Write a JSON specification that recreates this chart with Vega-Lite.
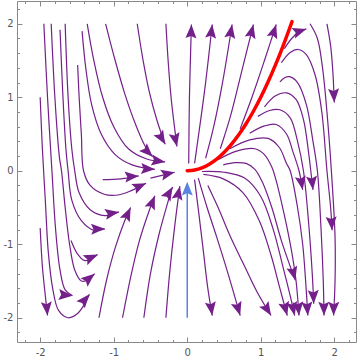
{
"$schema":"https://vega.github.io/schema/vega-lite/v6.json",
"width":339,"height":341,
"autosize":{"type":"none"},
"padding":{"left":17,"top":1,"right":4,"bottom":18},
"background":"white",
"config":{"view":{"stroke":null},"axis":{"grid":false,"domainColor":"#8a8a8a","tickColor":"#8a8a8a","labelColor":"#555555","labelFont":"DejaVu Sans","labelFontSize":10,"domainWidth":1,"tickWidth":1,"title":null}},
"datasets":{
"streams":[
{"s":"U1","i":0,"x":0.02,"y":0.1},{"s":"U1","i":1,"x":0.03,"y":1.0},{"s":"U1","i":2,"x":0.057,"y":1.99},
{"s":"U2","i":0,"x":0.1,"y":0.1},{"s":"U2","i":1,"x":0.17,"y":0.6},{"s":"U2","i":2,"x":0.25,"y":1.2},{"s":"U2","i":3,"x":0.34,"y":1.99},
{"s":"U3","i":0,"x":0.25,"y":0.17},{"s":"U3","i":1,"x":0.36,"y":0.6},{"s":"U3","i":2,"x":0.48,"y":1.2},{"s":"U3","i":3,"x":0.61,"y":1.99},
{"s":"U4","i":0,"x":0.45,"y":0.3},{"s":"U4","i":1,"x":0.59,"y":0.75},{"s":"U4","i":2,"x":0.74,"y":1.35},{"s":"U4","i":3,"x":0.9,"y":1.99},
{"s":"U5","i":0,"x":0.72,"y":0.57},{"s":"U5","i":1,"x":0.88,"y":1.0},{"s":"U5","i":2,"x":1.05,"y":1.5},{"s":"U5","i":3,"x":1.21,"y":1.99},
{"s":"P0","i":0,"x":1.32,"y":1.66},{"s":"P0","i":1,"x":1.42,"y":1.8},{"s":"P0","i":2,"x":1.52,"y":1.89},{"s":"P0","i":3,"x":1.62,"y":1.93},
{"s":"P1","i":0,"x":1.28,"y":1.47},{"s":"P1","i":1,"x":1.4,"y":1.61},{"s":"P1","i":2,"x":1.51,"y":1.65},{"s":"P1","i":3,"x":1.62,"y":1.58},{"s":"P1","i":4,"x":1.74,"y":1.3},{"s":"P1","i":5,"x":1.83,"y":0.8},{"s":"P1","i":6,"x":1.9,"y":0.0},{"s":"P1","i":7,"x":1.95,"y":-0.5},{"s":"P1","i":8,"x":1.97,"y":-0.81},
{"s":"P2","i":0,"x":1.26,"y":1.21},{"s":"P2","i":1,"x":1.33,"y":1.27},{"s":"P2","i":2,"x":1.39,"y":1.28},{"s":"P2","i":3,"x":1.5,"y":1.2},{"s":"P2","i":4,"x":1.62,"y":0.9},{"s":"P2","i":5,"x":1.71,"y":0.4},{"s":"P2","i":6,"x":1.77,"y":0.0},{"s":"P2","i":7,"x":1.82,"y":-0.8},{"s":"P2","i":8,"x":1.85,"y":-1.5},{"s":"P2","i":9,"x":1.86,"y":-1.97},
{"s":"P3","i":0,"x":1.05,"y":0.87},{"s":"P3","i":1,"x":1.2,"y":1.02},{"s":"P3","i":2,"x":1.35,"y":1.06},{"s":"P3","i":3,"x":1.48,"y":0.97},{"s":"P3","i":4,"x":1.58,"y":0.7},{"s":"P3","i":5,"x":1.65,"y":0.25},{"s":"P3","i":6,"x":1.68,"y":0.0},{"s":"P3","i":7,"x":1.71,"y":-0.26},
{"s":"P4","i":0,"x":0.96,"y":0.74},{"s":"P4","i":1,"x":1.12,"y":0.82},{"s":"P4","i":2,"x":1.26,"y":0.83},{"s":"P4","i":3,"x":1.4,"y":0.72},{"s":"P4","i":4,"x":1.5,"y":0.4},{"s":"P4","i":5,"x":1.58,"y":0.0},{"s":"P4","i":6,"x":1.65,"y":-0.7},{"s":"P4","i":7,"x":1.7,"y":-1.4},{"s":"P4","i":8,"x":1.72,"y":-1.81},
{"s":"P5","i":0,"x":0.85,"y":0.51},{"s":"P5","i":1,"x":1.05,"y":0.61},{"s":"P5","i":2,"x":1.21,"y":0.63},{"s":"P5","i":3,"x":1.35,"y":0.5},{"s":"P5","i":4,"x":1.44,"y":0.25},{"s":"P5","i":5,"x":1.52,"y":0.0},{"s":"P5","i":6,"x":1.57,"y":-0.26},
{"s":"P6","i":0,"x":0.58,"y":0.3},{"s":"P6","i":1,"x":0.85,"y":0.42},{"s":"P6","i":2,"x":1.1,"y":0.44},{"s":"P6","i":3,"x":1.25,"y":0.32},{"s":"P6","i":4,"x":1.35,"y":0.1},{"s":"P6","i":5,"x":1.4,"y":0.0},{"s":"P6","i":6,"x":1.5,"y":-0.5},{"s":"P6","i":7,"x":1.57,"y":-1.0},{"s":"P6","i":8,"x":1.61,"y":-1.5},{"s":"P6","i":9,"x":1.64,"y":-1.97},
{"s":"P7","i":0,"x":0.42,"y":0.15},{"s":"P7","i":1,"x":0.65,"y":0.26},{"s":"P7","i":2,"x":0.92,"y":0.3},{"s":"P7","i":3,"x":1.05,"y":0.22},{"s":"P7","i":4,"x":1.15,"y":0.05},{"s":"P7","i":5,"x":1.2,"y":-0.1},{"s":"P7","i":6,"x":1.32,"y":-0.6},{"s":"P7","i":7,"x":1.42,"y":-1.1},{"s":"P7","i":8,"x":1.48,"y":-1.5},{"s":"P7","i":9,"x":1.52,"y":-1.97},
{"s":"P8","i":0,"x":0.49,"y":0.08},{"s":"P8","i":1,"x":0.65,"y":0.11},{"s":"P8","i":2,"x":0.8,"y":0.1},{"s":"P8","i":3,"x":0.92,"y":0.02},{"s":"P8","i":4,"x":1.02,"y":-0.15},{"s":"P8","i":5,"x":1.15,"y":-0.5},{"s":"P8","i":6,"x":1.28,"y":-0.95},{"s":"P8","i":7,"x":1.4,"y":-1.3},{"s":"P8","i":8,"x":1.47,"y":-1.49},
{"s":"R1","i":0,"x":0.1,"y":-0.12},{"s":"R1","i":1,"x":0.16,"y":-0.6},{"s":"R1","i":2,"x":0.22,"y":-1.1},{"s":"R1","i":3,"x":0.28,"y":-1.6},{"s":"R1","i":4,"x":0.34,"y":-1.97},
{"s":"R2","i":0,"x":0.15,"y":-0.1},{"s":"R2","i":1,"x":0.27,"y":-0.5},{"s":"R2","i":2,"x":0.4,"y":-0.9},{"s":"R2","i":3,"x":0.57,"y":-1.45},{"s":"R2","i":4,"x":0.72,"y":-1.97},
{"s":"R3","i":0,"x":0.28,"y":-0.2},{"s":"R3","i":1,"x":0.42,"y":-0.5},{"s":"R3","i":2,"x":0.58,"y":-0.88},{"s":"R3","i":3,"x":0.78,"y":-1.3},{"s":"R3","i":4,"x":0.95,"y":-1.65},{"s":"R3","i":5,"x":1.14,"y":-1.97},
{"s":"R4","i":0,"x":0.22,"y":-0.05},{"s":"R4","i":1,"x":0.49,"y":-0.11},{"s":"R4","i":2,"x":0.76,"y":-0.3},{"s":"R4","i":3,"x":0.98,"y":-0.68},{"s":"R4","i":4,"x":1.14,"y":-1.15},{"s":"R4","i":5,"x":1.26,"y":-1.6},{"s":"R4","i":6,"x":1.36,"y":-1.97},
{"s":"R5","i":0,"x":0.2,"y":-0.01},{"s":"R5","i":1,"x":0.5,"y":-0.02},{"s":"R5","i":2,"x":0.78,"y":-0.1},{"s":"R5","i":3,"x":1.0,"y":-0.35},{"s":"R5","i":4,"x":1.17,"y":-0.8},{"s":"R5","i":5,"x":1.3,"y":-1.3},{"s":"R5","i":6,"x":1.4,"y":-1.7},{"s":"R5","i":7,"x":1.46,"y":-1.97},
{"s":"F1","i":0,"x":1.67,"y":2.0},{"s":"F1","i":1,"x":1.77,"y":1.8},{"s":"F1","i":2,"x":1.84,"y":1.4},{"s":"F1","i":3,"x":1.9,"y":0.8},{"s":"F1","i":4,"x":1.96,"y":0.0},{"s":"F1","i":5,"x":2.01,"y":-0.9},{"s":"F1","i":6,"x":2.01,"y":-1.5},{"s":"F1","i":7,"x":1.99,"y":-1.97},
{"s":"F2","i":0,"x":1.9,"y":2.0},{"s":"F2","i":1,"x":1.95,"y":1.7},{"s":"F2","i":2,"x":1.98,"y":1.35},{"s":"F2","i":3,"x":2.0,"y":0.93},
{"s":"T1","i":0,"x":-0.29,"y":2.0},{"s":"T1","i":1,"x":-0.26,"y":1.5},{"s":"T1","i":2,"x":-0.22,"y":1.0},{"s":"T1","i":3,"x":-0.18,"y":0.65},{"s":"T1","i":4,"x":-0.14,"y":0.33},
{"s":"T2","i":0,"x":-0.68,"y":2.0},{"s":"T2","i":1,"x":-0.6,"y":1.5},{"s":"T2","i":2,"x":-0.51,"y":1.05},{"s":"T2","i":3,"x":-0.41,"y":0.68},{"s":"T2","i":4,"x":-0.3,"y":0.36},
{"s":"T3","i":0,"x":-1.11,"y":2.0},{"s":"T3","i":1,"x":-0.98,"y":1.5},{"s":"T3","i":2,"x":-0.85,"y":1.05},{"s":"T3","i":3,"x":-0.71,"y":0.65},{"s":"T3","i":4,"x":-0.57,"y":0.33},{"s":"T3","i":5,"x":-0.47,"y":0.19},
{"s":"T4","i":0,"x":-1.36,"y":2.0},{"s":"T4","i":1,"x":-1.27,"y":1.5},{"s":"T4","i":2,"x":-1.15,"y":1.0},{"s":"T4","i":3,"x":-1.0,"y":0.6},{"s":"T4","i":4,"x":-0.8,"y":0.3},{"s":"T4","i":5,"x":-0.55,"y":0.16},{"s":"T4","i":6,"x":-0.3,"y":0.12},
{"s":"T5","i":0,"x":-1.43,"y":1.9},{"s":"T5","i":1,"x":-1.38,"y":1.4},{"s":"T5","i":2,"x":-1.3,"y":0.9},{"s":"T5","i":3,"x":-1.17,"y":0.5},{"s":"T5","i":4,"x":-0.98,"y":0.22},{"s":"T5","i":5,"x":-0.75,"y":0.08},{"s":"T5","i":6,"x":-0.44,"y":0.02},
{"s":"UA","i":0,"x":-1.49,"y":1.44},{"s":"UA","i":1,"x":-1.47,"y":1.0},{"s":"UA","i":2,"x":-1.44,"y":0.5},{"s":"UA","i":3,"x":-1.41,"y":0.0},{"s":"UA","i":4,"x":-1.32,"y":-0.2},{"s":"UA","i":5,"x":-1.13,"y":-0.32},{"s":"UA","i":6,"x":-0.94,"y":-0.33},{"s":"UA","i":7,"x":-0.76,"y":-0.27},{"s":"UA","i":8,"x":-0.56,"y":-0.17},
{"s":"M1","i":0,"x":-1.15,"y":-0.12},{"s":"M1","i":1,"x":-0.9,"y":-0.11},{"s":"M1","i":2,"x":-0.66,"y":-0.07},
{"s":"M2","i":0,"x":-0.5,"y":-0.1},{"s":"M2","i":1,"x":-0.33,"y":-0.06},{"s":"M2","i":2,"x":-0.17,"y":-0.02},
{"s":"UB","i":0,"x":-1.66,"y":2.0},{"s":"UB","i":1,"x":-1.62,"y":1.0},{"s":"UB","i":2,"x":-1.57,"y":0.3},{"s":"UB","i":3,"x":-1.53,"y":0.0},{"s":"UB","i":4,"x":-1.47,"y":-0.3},{"s":"UB","i":5,"x":-1.32,"y":-0.53},{"s":"UB","i":6,"x":-1.12,"y":-0.61},{"s":"UB","i":7,"x":-0.93,"y":-0.56},
{"s":"UC","i":0,"x":-1.73,"y":1.92},{"s":"UC","i":1,"x":-1.69,"y":1.0},{"s":"UC","i":2,"x":-1.65,"y":0.3},{"s":"UC","i":3,"x":-1.62,"y":0.0},{"s":"UC","i":4,"x":-1.57,"y":-0.4},{"s":"UC","i":5,"x":-1.44,"y":-0.68},{"s":"UC","i":6,"x":-1.27,"y":-0.81},{"s":"UC","i":7,"x":-1.12,"y":-0.79},
{"s":"UG","i":0,"x":-1.58,"y":-0.95},{"s":"UG","i":1,"x":-1.5,"y":-1.12},{"s":"UG","i":2,"x":-1.4,"y":-1.22},{"s":"UG","i":3,"x":-1.3,"y":-1.2},{"s":"UG","i":4,"x":-1.22,"y":-1.14},
{"s":"UD","i":0,"x":-1.85,"y":2.0},{"s":"UD","i":1,"x":-1.8,"y":1.0},{"s":"UD","i":2,"x":-1.74,"y":0.2},{"s":"UD","i":3,"x":-1.71,"y":0.0},{"s":"UD","i":4,"x":-1.66,"y":-0.5},{"s":"UD","i":5,"x":-1.6,"y":-1.0},{"s":"UD","i":6,"x":-1.53,"y":-1.35},{"s":"UD","i":7,"x":-1.44,"y":-1.5},{"s":"UD","i":8,"x":-1.34,"y":-1.48},{"s":"UD","i":9,"x":-1.26,"y":-1.4},
{"s":"UE","i":0,"x":-1.95,"y":2.0},{"s":"UE","i":1,"x":-1.9,"y":1.0},{"s":"UE","i":2,"x":-1.84,"y":0.0},{"s":"UE","i":3,"x":-1.79,"y":-0.8},{"s":"UE","i":4,"x":-1.73,"y":-1.35},{"s":"UE","i":5,"x":-1.66,"y":-1.62},{"s":"UE","i":6,"x":-1.56,"y":-1.7},
{"s":"UF","i":0,"x":-2.0,"y":1.0},{"s":"UF","i":1,"x":-1.97,"y":0.3},{"s":"UF","i":2,"x":-1.93,"y":-0.4},{"s":"UF","i":3,"x":-1.89,"y":-1.1},{"s":"UF","i":4,"x":-1.83,"y":-1.6},{"s":"UF","i":5,"x":-1.75,"y":-1.9},{"s":"UF","i":6,"x":-1.62,"y":-2.0},{"s":"UF","i":7,"x":-1.5,"y":-1.95},{"s":"UF","i":8,"x":-1.4,"y":-1.82},{"s":"UF","i":9,"x":-1.33,"y":-1.68},
{"s":"L2","i":0,"x":-2.0,"y":-0.78},{"s":"L2","i":1,"x":-1.97,"y":-1.3},{"s":"L2","i":2,"x":-1.93,"y":-1.7},{"s":"L2","i":3,"x":-1.9,"y":-1.97},
{"s":"B1","i":0,"x":-0.29,"y":-2.0},{"s":"B1","i":1,"x":-0.24,"y":-1.4},{"s":"B1","i":2,"x":-0.17,"y":-0.75},{"s":"B1","i":3,"x":-0.1,"y":-0.21},
{"s":"B2","i":0,"x":-0.59,"y":-2.0},{"s":"B2","i":1,"x":-0.5,"y":-1.4},{"s":"B2","i":2,"x":-0.38,"y":-0.85},{"s":"B2","i":3,"x":-0.27,"y":-0.45},{"s":"B2","i":4,"x":-0.2,"y":-0.22},
{"s":"B3","i":0,"x":-0.88,"y":-2.0},{"s":"B3","i":1,"x":-0.77,"y":-1.45},{"s":"B3","i":2,"x":-0.65,"y":-0.95},{"s":"B3","i":3,"x":-0.52,"y":-0.55},{"s":"B3","i":4,"x":-0.44,"y":-0.34},
{"s":"B4","i":0,"x":-1.2,"y":-2.0},{"s":"B4","i":1,"x":-1.1,"y":-1.5},{"s":"B4","i":2,"x":-0.98,"y":-1.05},{"s":"B4","i":3,"x":-0.85,"y":-0.68},{"s":"B4","i":4,"x":-0.77,"y":-0.5}
],
"arrows":[
{"x":0.057,"y":1.99,"dir":2},{"x":0.34,"y":1.99,"dir":7},{"x":0.61,"y":1.99,"dir":10},{"x":0.9,"y":1.99,"dir":14},{"x":1.21,"y":1.99,"dir":18},
{"x":1.62,"y":1.93,"dir":72},
{"x":1.97,"y":-0.81,"dir":176},{"x":1.86,"y":-1.97,"dir":179},{"x":1.71,"y":-0.26,"dir":174},{"x":1.72,"y":-1.81,"dir":178},{"x":1.57,"y":-0.26,"dir":170},{"x":1.64,"y":-1.97,"dir":176},{"x":1.52,"y":-1.97,"dir":175},{"x":1.47,"y":-1.49,"dir":165},
{"x":0.34,"y":-1.97,"dir":172},{"x":0.72,"y":-1.97,"dir":163},{"x":1.14,"y":-1.97,"dir":148},{"x":1.36,"y":-1.97,"dir":165},{"x":1.46,"y":-1.97,"dir":168},{"x":1.99,"y":-1.97,"dir":181},{"x":2.0,"y":0.93,"dir":177},
{"x":-0.14,"y":0.33,"dir":168},{"x":-0.3,"y":0.36,"dir":150},{"x":-0.47,"y":0.19,"dir":135},{"x":-0.3,"y":0.12,"dir":98},{"x":-0.44,"y":0.02,"dir":93},
{"x":-0.56,"y":-0.17,"dir":65},{"x":-0.66,"y":-0.07,"dir":85},{"x":-0.17,"y":-0.02,"dir":78},
{"x":-0.93,"y":-0.56,"dir":80},{"x":-1.12,"y":-0.79,"dir":88},{"x":-1.22,"y":-1.14,"dir":65},{"x":-1.26,"y":-1.4,"dir":50},{"x":-1.56,"y":-1.7,"dir":95},{"x":-1.33,"y":-1.68,"dir":40},{"x":-1.9,"y":-1.97,"dir":175},
{"x":-0.1,"y":-0.21,"dir":12},{"x":-0.2,"y":-0.22,"dir":30},{"x":-0.44,"y":-0.34,"dir":22},{"x":-0.77,"y":-0.5,"dir":25}
],
"red":[
{"x":0,"y":0},{"x":0.1,"y":0.01},{"x":0.2,"y":0.04},{"x":0.3,"y":0.09},{"x":0.4,"y":0.16},{"x":0.5,"y":0.25},{"x":0.6,"y":0.36},{"x":0.7,"y":0.49},{"x":0.8,"y":0.64},{"x":0.9,"y":0.81},{"x":1.0,"y":1.0},{"x":1.1,"y":1.21},{"x":1.2,"y":1.44},{"x":1.3,"y":1.69},{"x":1.4,"y":1.96},{"x":1.425,"y":2.03}
],
"blue":[{"x":0,"y":-2.0,"i":0},{"x":0,"y":-0.18,"i":1}],
"bluehead":[{"x":0,"y":-0.15,"dir":0}]
},
"resolve":{"axis":{"x":"independent","y":"independent"}},
"layer":[
{"data":{"name":"streams"},
 "mark":{"type":"line","interpolate":"catmull-rom","strokeWidth":1.2,"color":"#74208a"},
 "encoding":{
  "x":{"field":"x","type":"quantitative","scale":{"domain":[-2.315,2.295],"nice":false,"zero":false},
       "axis":{"orient":"bottom","values":[-2,-1,0,1,2],"tickSize":-5,"labelPadding":10,"labelExpr":"datum.value < 0 ? '-' + abs(datum.value) : '' + datum.value"}},
  "y":{"field":"y","type":"quantitative","scale":{"domain":[-2.33,2.31],"nice":false,"zero":false},
       "axis":{"orient":"left","values":[-2,-1,0,1,2],"tickSize":-5,"labelPadding":9,"labelExpr":"datum.value < 0 ? '-' + abs(datum.value) : '' + datum.value"}},
  "detail":{"field":"s"},
  "order":{"field":"i"}
 }},
{"data":{"name":"arrows"},
 "mark":{"type":"point","shape":"M0,0 L0.8,2 L0,1.65 L-0.8,2 Z","filled":true,"size":190,"color":"#74208a","opacity":1,"strokeWidth":0},
 "encoding":{
  "x":{"field":"x","type":"quantitative","axis":{"orient":"bottom","values":[-2.2,-1.8,-1.6,-1.4,-1.2,-0.8,-0.6,-0.4,-0.2,0.2,0.4,0.6,0.8,1.2,1.4,1.6,1.8,2.2],"tickSize":-2.5,"labels":false,"domain":false}},
  "y":{"field":"y","type":"quantitative","axis":{"orient":"left","values":[-2.2,-1.8,-1.6,-1.4,-1.2,-0.8,-0.6,-0.4,-0.2,0.2,0.4,0.6,0.8,1.2,1.4,1.6,1.8,2.2],"tickSize":-2.5,"labels":false,"domain":false}},
  "angle":{"field":"dir","type":"quantitative","scale":null}
 }},
{"data":{"name":"red"},
 "mark":{"type":"line","interpolate":"catmull-rom","strokeWidth":3.5,"color":"#ff0000","strokeCap":"round"},
 "encoding":{
  "x":{"field":"x","type":"quantitative","axis":{"orient":"top","values":[-2,-1,0,1,2],"tickSize":-5,"labels":false}},
  "y":{"field":"y","type":"quantitative","axis":{"orient":"right","values":[-2,-1,0,1,2],"tickSize":-5,"labels":false}}
 }},
{"data":{"name":"blue"},
 "mark":{"type":"line","strokeWidth":1.5,"color":"#5b84e0"},
 "encoding":{
  "x":{"field":"x","type":"quantitative","axis":{"orient":"top","values":[-2.2,-1.8,-1.6,-1.4,-1.2,-0.8,-0.6,-0.4,-0.2,0.2,0.4,0.6,0.8,1.2,1.4,1.6,1.8,2.2],"tickSize":-2.5,"labels":false,"domain":false}},
  "y":{"field":"y","type":"quantitative","axis":{"orient":"right","values":[-2.2,-1.8,-1.6,-1.4,-1.2,-0.8,-0.6,-0.4,-0.2,0.2,0.4,0.6,0.8,1.2,1.4,1.6,1.8,2.2],"tickSize":-2.5,"labels":false,"domain":false}},
  "order":{"field":"i"}
 }},
{"data":{"name":"bluehead"},
 "mark":{"type":"point","shape":"M0,0 L0.8,2 L0,1.65 L-0.8,2 Z","filled":true,"size":190,"color":"#5b84e0","opacity":1,"strokeWidth":0},
 "encoding":{
  "x":{"field":"x","type":"quantitative","axis":null},
  "y":{"field":"y","type":"quantitative","axis":null},
  "angle":{"field":"dir","type":"quantitative","scale":null}
 }}
]
}
